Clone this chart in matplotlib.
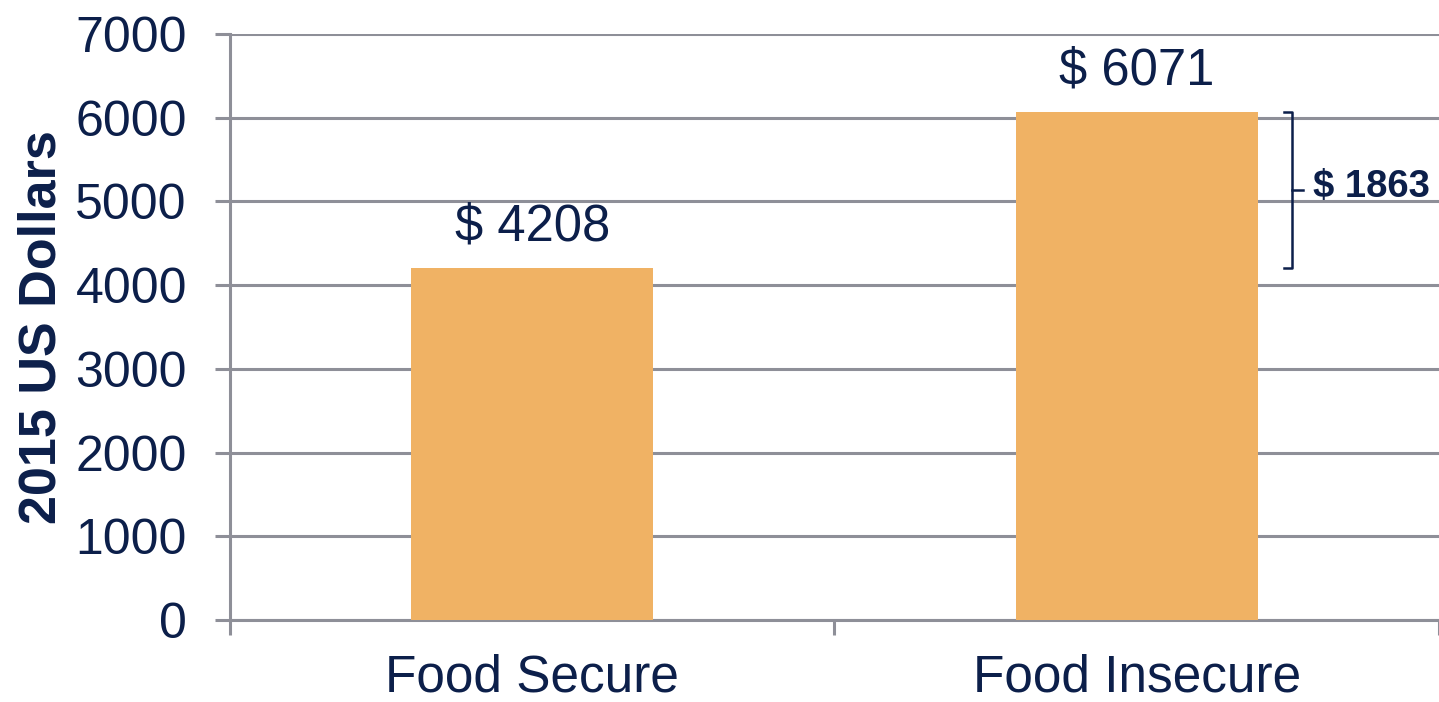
import matplotlib
matplotlib.use("Agg")
import matplotlib.pyplot as plt
from matplotlib.ticker import FixedLocator

categories = ["Food Secure", "Food Insecure"]
values = [4208, 6071]
value_labels = ["$ 4208", "$ 6071"]
diff_label = "$ 1863"
yticks = [0, 1000, 2000, 3000, 4000, 5000, 6000, 7000]

navy = "#0c1f4a"
bar_color = "#f0b264"
grid_color = "#8e8f98"

plt.rcParams['font.family'] = ['Liberation Sans', 'DejaVu Sans']

fig = plt.figure(figsize=(14.39, 7.02), dpi=100)
ax = fig.add_axes([0.1598, 0.1168, 0.8402, 0.8348])

x = list(range(len(categories)))
ax.bar(x, values, width=0.4, color=bar_color, zorder=3)

ax.set_xlim(-0.5, 1.5)
ax.set_ylim(0, 7000)
ax.set_yticks(yticks)
ax.set_yticklabels([str(t) for t in yticks])
ax.set_xticks(x)
ax.set_xticklabels(categories)
ax.xaxis.set_minor_locator(FixedLocator([-0.5, 0.5, 1.5]))

ax.grid(axis='y', color=grid_color, linewidth=2.2, zorder=0)
ax.set_axisbelow(True)
for s in ['top', 'right']:
    ax.spines[s].set_visible(False)
for s in ['left', 'bottom']:
    ax.spines[s].set_color(grid_color)
    ax.spines[s].set_linewidth(2.2)

ax.tick_params(axis='y', which='major', length=11, width=2.2, color=grid_color,
               labelsize=36, labelcolor=navy, pad=20)
ax.tick_params(axis='x', which='major', length=0, labelsize=37, labelcolor=navy, pad=24)
ax.tick_params(axis='x', which='minor', length=11, width=2.2, color=grid_color)

ax.set_ylabel("2015 US Dollars", fontsize=37.5, fontweight='bold', color=navy)
ax.yaxis.set_label_coords(-0.1355, 0.5)

for xi, v, lab in zip(x, values, value_labels):
    ax.annotate(lab, (xi, v), xytext=(0, 12), textcoords='offset points',
                ha='center', va='bottom', fontsize=36.5, color=navy)

# bracket showing the difference
top, bot = values[1], values[0]
bx = 1.257
ax.plot([bx - 0.013, bx, bx, bx - 0.013], [top, top, bot, bot],
        color=navy, linewidth=1.8, clip_on=False, zorder=4)
mid = (top + bot) / 2
ax.plot([bx, bx + 0.018], [mid, mid], color=navy, linewidth=1.8, clip_on=False, zorder=4)
ax.text(bx + 0.035, mid + 30, diff_label, ha='left', va='center', fontsize=27.5,
        fontweight='bold', color=navy)

fig.savefig("out.png", dpi=100)
